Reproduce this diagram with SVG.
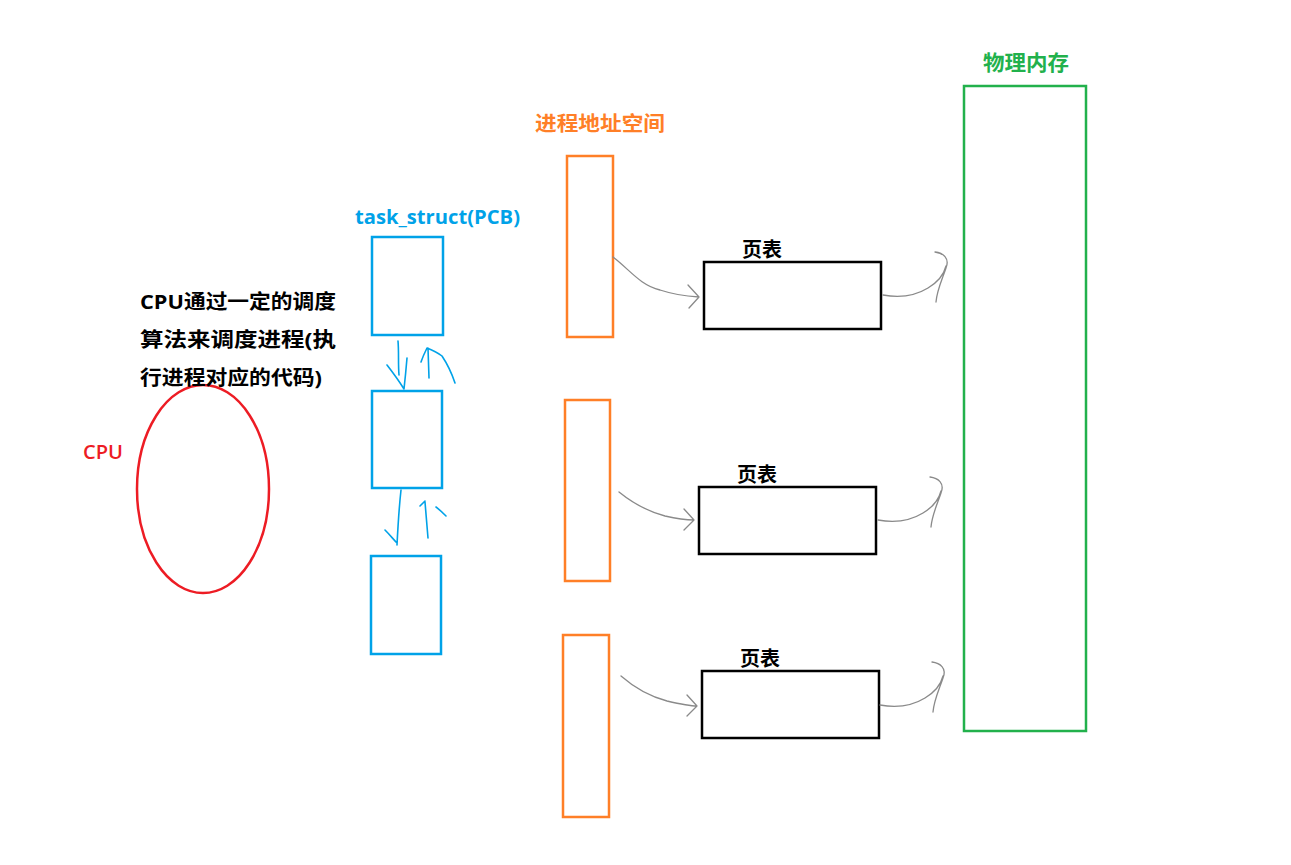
<svg xmlns="http://www.w3.org/2000/svg" width="1291" height="865" viewBox="0 0 1291 865">
<style>
text{font-family:"Open Sans","Noto Sans CJK SC",sans-serif;font-weight:bold;}
.blue{fill:none;stroke:#00A2E8;stroke-width:2.5;}
.orange{fill:none;stroke:#FF7F27;stroke-width:2.5;}
.black{fill:none;stroke:#000;stroke-width:2.5;}
.green{fill:none;stroke:#22B14C;stroke-width:2.5;}
.conn{fill:none;stroke:#8a8a8a;stroke-width:1.3;stroke-linecap:round;stroke-linejoin:round;}
.bconn{fill:none;stroke:#00A2E8;stroke-width:1.6;stroke-linecap:round;stroke-linejoin:round;}
</style>
<rect width="1291" height="865" fill="#fff"/>

<g id="physical-memory">
<rect class="green" x="964" y="86" width="122" height="645"/>
<text x="983" y="70" font-size="21" fill="#22B14C" textLength="86" lengthAdjust="spacingAndGlyphs">物理内存</text>
</g>

<g id="address-space-label">
<text x="535" y="131" font-size="20" fill="#FF7F27" textLength="130" lengthAdjust="spacingAndGlyphs">进程地址空间</text>
</g>
<g id="as1"><rect class="orange" x="567" y="156" width="46" height="181"/></g>
<g id="as2"><rect class="orange" x="565" y="400" width="45" height="181"/></g>
<g id="as3"><rect class="orange" x="563" y="635" width="46" height="182"/></g>

<g id="pt1">
<rect class="black" x="704" y="262" width="177" height="67"/>
<text x="742" y="257" font-size="20" fill="#000">页表</text>
</g>
<g id="pt2">
<rect class="black" x="699" y="487" width="177" height="67"/>
<text x="737" y="482" font-size="20" fill="#000">页表</text>
</g>
<g id="pt3">
<rect class="black" x="702" y="671" width="177" height="67"/>
<text x="740" y="666" font-size="20" fill="#000">页表</text>
</g>

<g id="pcb-label">
<text x="355" y="224" font-size="19" fill="#00A2E8" textLength="165" lengthAdjust="spacingAndGlyphs">task_struct(PCB)</text>
</g>
<g id="pcb1"><rect class="blue" x="372" y="237" width="71" height="98"/></g>
<g id="pcb2"><rect class="blue" x="372" y="391" width="70" height="97"/></g>
<g id="pcb3"><rect class="blue" x="371" y="556" width="70" height="98"/></g>

<g id="cpu">
<ellipse cx="203" cy="489" rx="66" ry="104" fill="none" stroke="#ED1C24" stroke-width="2.5"/>
<text x="83" y="459" font-size="19" fill="#ED1C24" textLength="40" lengthAdjust="spacingAndGlyphs" style="font-weight:600">CPU</text>
</g>

<g id="cpu-note">
<text x="140" y="309" font-size="20" fill="#000" textLength="196" lengthAdjust="spacingAndGlyphs">CPU通过一定的调度</text>
<text x="140" y="347" font-size="20" fill="#000" textLength="196" lengthAdjust="spacingAndGlyphs">算法来调度进程(执</text>
<text x="140" y="385" font-size="20" fill="#000" textLength="182" lengthAdjust="spacingAndGlyphs">行进程对应的代码)</text>
</g>

<g id="connectors">
<path class="conn" d="M613,257 C630,270 640,285 660,290 C675,295 685,296 699,297 M688,285 L699,297 L689,308"/>
<path class="conn" d="M619,492 C635,505 650,512 665,516 C678,519 686,520 694,520 M684,509 L694,520 L684,530"/>
<path class="conn" d="M621,676 C637,690 652,697 667,701 C680,704 689,706 697,706 M687,695 L697,706 L687,716"/>

<path class="conn" d="M883,295 C900,298 915,296 928,288 C938,282 944,274 946,266 M935,252 C943,253 950,258 946,268 C942,280 937,290 936,302"/>
<path class="conn" d="M878,520 C895,523 910,521 923,513 C933,507 939,499 941,491 M930,477 C938,478 945,483 941,493 C937,505 932,515 931,527"/>
<path class="conn" d="M880,705 C897,708 912,706 925,698 C935,692 941,684 943,676 M932,662 C940,663 947,668 943,678 C939,690 934,700 933,712"/>

<path class="bconn" d="M398,341 C399,352 398,364 399,375 M407,358 C406,370 405,380 404,389 M387,365 C394,374 399,381 404,389"/>
<path class="bconn" d="M429,378 L428,348 M421,362 C423,356 425,352 427,348 C432,350 437,352 442,356 C448,365 452,374 455,383"/>
<path class="bconn" d="M401,490 C399,508 398,525 397,545 M385,530 C390,535 394,540 397,543"/>
<path class="bconn" d="M428,538 C427,525 426,513 425,502 M420,506 C422,504 424,502 425,501 M436,507 C440,510 443,513 446,516"/>
</g>
</svg>
